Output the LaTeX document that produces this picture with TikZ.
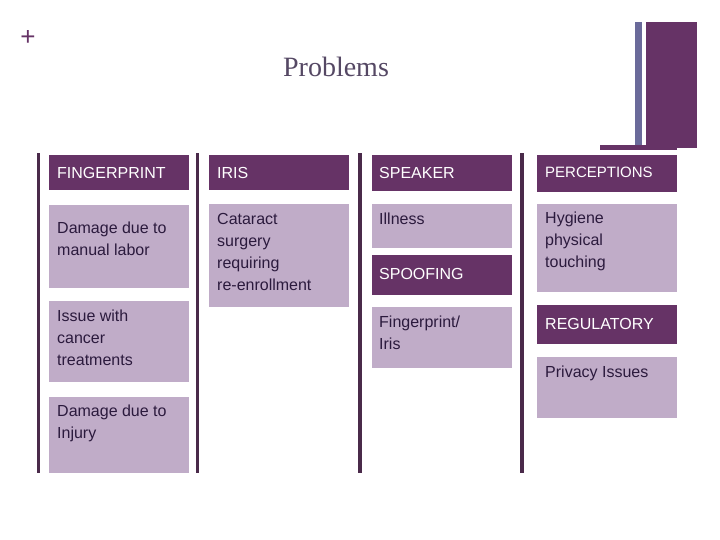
\documentclass[tikz,border=0pt]{standalone}
\usepackage{fontspec}
\setmainfont{Liberation Sans}
\newfontfamily\titlefont{Liberation Serif}
\definecolor{dark}{HTML}{663366}
\definecolor{light}{HTML}{C0ACC8}
\definecolor{ink}{HTML}{2B1A3D}
\definecolor{rule}{HTML}{4A2A4A}
\definecolor{bluebar}{HTML}{6A6A9A}
\begin{document}
\begin{tikzpicture}[x=1pt,y=-1pt,
  hdr/.style={fill=dark,text=white,inner sep=0pt},
  cell/.style={fill=light,inner sep=0pt},
  txt/.style={anchor=north west,align=left,text=ink,font=\fontsize{16}{22}\selectfont,inner sep=0pt},
  htxt/.style={anchor=west,text=white,font=\fontsize{16}{22}\selectfont,inner sep=0pt},
  vrule/.style={fill=rule}]
\useasboundingbox (0,0) rectangle (720,540);
\node[text=dark,font=\fontsize{26}{26}\selectfont] (plus) at (28,38) {+};
\node[font=\titlefont\fontsize{28}{28}\selectfont,text=ink!80] (title) at (336,67) {Problems};
\fill[bluebar] (635,22) rectangle (642,148);
\fill[dark] (646,22) rectangle (697,148);
\fill[dark] (600,145) rectangle (677,150);
% vertical rules
\fill[vrule] (37,153) rectangle (40,473);
\fill[vrule] (196,153) rectangle (199,473);
\fill[vrule] (358,153) rectangle (362,473);
\fill[vrule] (520,153) rectangle (524,473);
% col 1
\fill[dark] (49,155) rectangle (189,190);
\node[htxt] (h1) at (57,172.5) {FINGERPRINT};
\fill[light] (49,205) rectangle (189,288);
\node[txt] (c11) at (57,222) {Damage due to\\manual labor};
\fill[light] (49,301) rectangle (189,382);
\node[txt] (c12) at (57,310) {Issue with\\cancer\\treatments};
\fill[light] (49,397) rectangle (189,473);
\node[txt] (c13) at (57,405) {Damage due to\\Injury};
% col 2
\fill[dark] (209,155) rectangle (349,190);
\node[htxt] (h2) at (217,172.5) {IRIS};
\fill[light] (209,204) rectangle (349,307);
\node[txt] (c21) at (217,213) {Cataract\\surgery\\requiring\\re-enrollment};
% col 3
\fill[dark] (372,155) rectangle (512,191);
\node[htxt] (h3) at (379,173) {SPEAKER};
\fill[light] (372,204) rectangle (512,248);
\node[txt] (c31) at (379,213) {Illness};
\fill[dark] (372,255) rectangle (512,295);
\node[htxt] (h3b) at (379,274) {SPOOFING};
\fill[light] (372,307) rectangle (512,368);
\node[txt] (c32) at (379,316) {Fingerprint/\\Iris};
% col 4
\fill[dark] (537,155) rectangle (677,192);
\node[htxt,font=\fontsize{15}{20}\selectfont] (h4) at (545,172.5) {PERCEPTIONS};
\fill[light] (537,204) rectangle (677,292);
\node[txt] (c41) at (545,212) {Hygiene\\physical\\touching};
\fill[dark] (537,305) rectangle (677,344);
\node[htxt] (h4b) at (545,323.5) {REGULATORY};
\fill[light] (537,357) rectangle (677,418);
\node[txt] (c42) at (545,366) {Privacy Issues};
\end{tikzpicture}
\end{document}
